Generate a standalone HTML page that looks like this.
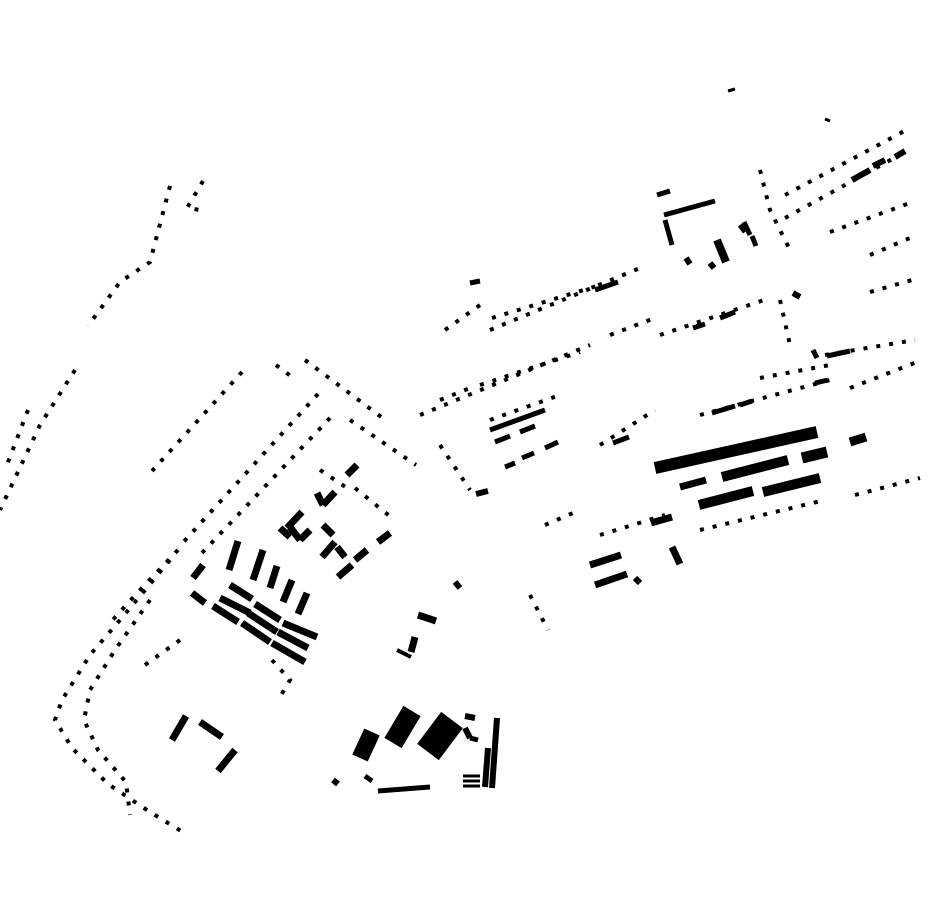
<!DOCTYPE html>
<html><head><style>body{margin:0;background:#fff}svg{display:block}</style></head><body>
<svg width="930" height="924" viewBox="0 0 930 924" xmlns="http://www.w3.org/2000/svg">
<g stroke="#000" fill="none" stroke-width="4" stroke-dasharray="4 9">
<polyline points="170,186 150,262 120,282 88,326"/>
<polyline points="203,181 187,208 200,210"/>
<polyline points="75,370 40,425 0,510"/>
<polyline points="28,410 5,470"/>
<line x1="242" y1="372" x2="152" y2="471"/>
<line x1="318" y1="394" x2="178" y2="548"/>
<line x1="330" y1="418" x2="200" y2="555"/>
<polyline points="178,550 140,590 108,625"/>
<polyline points="170,560 120,620 90,655 62,700 55,720 72,748 108,784 150,812 186,834"/>
<polyline points="150,600 115,650 90,690 84,720 98,750 126,782 130,815"/>
<polyline points="276,365 296,380"/>
<polyline points="305,360 388,422"/>
<polyline points="350,420 416,465"/>
<polyline points="355,488 392,518"/>
<polyline points="320,470 350,490"/>
<polyline points="440,445 470,490"/>
<polyline points="420,415 590,345"/>
<polyline points="440,400 470,388"/>
<polyline points="480,385 580,352"/>
<polyline points="490,330 640,268"/>
<polyline points="492,318 600,285"/>
<polyline points="610,335 655,318"/>
<polyline points="660,335 770,298"/>
<polyline points="785,195 910,128"/>
<polyline points="785,218 905,152"/>
<polyline points="830,232 910,203"/>
<polyline points="870,255 910,238"/>
<polyline points="870,292 912,280"/>
<polyline points="825,355 915,340"/>
<polyline points="850,388 917,362"/>
<polyline points="855,495 920,478"/>
<polyline points="760,378 830,365"/>
<polyline points="700,415 830,380"/>
<polyline points="600,445 655,410"/>
<polyline points="545,525 580,510"/>
<polyline points="600,535 665,515"/>
<polyline points="700,530 825,500"/>
<polyline points="760,170 770,210 790,250"/>
<polyline points="780,300 790,345"/>
<polyline points="445,330 480,305"/>
<polyline points="490,420 560,395"/>
<polyline points="530,595 548,630"/>
<polyline points="272,660 290,680 280,697"/>
<polyline points="145,665 180,640"/>
</g>
<g stroke="#000" stroke-linecap="butt">
<g stroke-width="7">
<line x1="238" y1="541" x2="229" y2="570"/><line x1="263" y1="550" x2="253" y2="580"/>
<line x1="277" y1="566" x2="270" y2="588"/><line x1="292" y1="580" x2="283" y2="602"/>
<line x1="307" y1="593" x2="298" y2="614"/>
<line x1="230" y1="585" x2="252" y2="599"/><line x1="220" y1="598" x2="250" y2="613"/>
<line x1="213" y1="606" x2="238" y2="622"/><line x1="255" y1="604" x2="280" y2="620"/>
<line x1="248" y1="613" x2="277" y2="632"/><line x1="242" y1="623" x2="270" y2="642"/>
<line x1="283" y1="623" x2="317" y2="637"/><line x1="278" y1="632" x2="308" y2="648"/>
<line x1="272" y1="643" x2="305" y2="662"/>
<line x1="203" y1="565" x2="193" y2="578"/><line x1="192" y1="593" x2="205" y2="603"/>
<line x1="302" y1="512" x2="287" y2="528"/><line x1="290" y1="527" x2="300" y2="540"/>
<line x1="300" y1="540" x2="310" y2="530"/><line x1="317" y1="493" x2="323" y2="505"/>
<line x1="323" y1="505" x2="335" y2="492"/><line x1="357" y1="465" x2="347" y2="475"/>
<line x1="323" y1="525" x2="333" y2="535"/><line x1="335" y1="542" x2="322" y2="557"/>
<line x1="337" y1="547" x2="345" y2="557"/><line x1="367" y1="550" x2="355" y2="560"/>
<line x1="352" y1="565" x2="338" y2="577"/><line x1="390" y1="533" x2="378" y2="542"/>
<line x1="280" y1="528" x2="290" y2="537"/>
<line x1="186" y1="716" x2="172" y2="740"/><line x1="200" y1="722" x2="222" y2="737"/>
<line x1="235" y1="750" x2="218" y2="771"/>
<line x1="680" y1="487" x2="706" y2="480"/><line x1="722" y1="477" x2="788" y2="460" stroke-width="10"/>
<line x1="802" y1="458" x2="827" y2="452" stroke-width="11"/><line x1="699" y1="505" x2="753" y2="491" stroke-width="10"/>
<line x1="763" y1="492" x2="820" y2="478" stroke-width="10"/><line x1="850" y1="442" x2="866" y2="437" stroke-width="9"/>
<line x1="590" y1="565" x2="621" y2="555"/><line x1="595" y1="585" x2="627" y2="574"/>
<line x1="672" y1="547" x2="680" y2="564"/><line x1="651" y1="523" x2="672" y2="517"/>
<line x1="717" y1="240" x2="726" y2="262" stroke-width="8"/>
<line x1="418" y1="615" x2="436" y2="621"/><line x1="415" y1="637" x2="411" y2="652"/>
<line x1="397" y1="650" x2="411" y2="657" stroke-width="4"/>
</g>
<line x1="655" y1="468" x2="817" y2="432" stroke-width="12"/>
<g stroke-width="5">
<line x1="664" y1="215" x2="715" y2="201"/><line x1="665" y1="220" x2="672" y2="245"/>
<line x1="490" y1="430" x2="545" y2="410"/><line x1="495" y1="442" x2="510" y2="436"/>
<line x1="520" y1="432" x2="535" y2="426"/><line x1="505" y1="467" x2="515" y2="463"/>
<line x1="522" y1="458" x2="534" y2="453"/><line x1="545" y1="448" x2="558" y2="442"/>
<line x1="613" y1="443" x2="629" y2="437"/><line x1="657" y1="195" x2="670" y2="191"/>
<line x1="693" y1="328" x2="705" y2="324"/><line x1="720" y1="318" x2="735" y2="312"/>
<line x1="712" y1="413" x2="735" y2="406"/><line x1="740" y1="405" x2="752" y2="401"/>
<line x1="815" y1="383" x2="828" y2="380"/><line x1="827" y1="356" x2="850" y2="351"/>
<line x1="813" y1="350" x2="817" y2="358"/><line x1="595" y1="290" x2="618" y2="282"/>
<line x1="378" y1="791" x2="430" y2="787"/>
<line x1="463" y1="776" x2="480" y2="776" stroke-width="3"/>
<line x1="463" y1="781" x2="480" y2="781" stroke-width="3"/>
<line x1="463" y1="786" x2="480" y2="786" stroke-width="3"/>
<line x1="744" y1="222" x2="750" y2="235"/><line x1="752" y1="236" x2="756" y2="246"/>
<line x1="740" y1="225" x2="745" y2="232"/>
</g>
<line x1="497" y1="718" x2="492" y2="788" stroke-width="6"/>
<line x1="488" y1="748" x2="485" y2="787" stroke-width="6"/>
<line x1="372" y1="732" x2="360" y2="758" stroke-width="17"/>
<line x1="412" y1="711" x2="393" y2="743" stroke-width="20"/>
<line x1="452" y1="720" x2="428" y2="752" stroke-width="27"/>
<line x1="465" y1="716" x2="475" y2="718" stroke-width="6"/>
<line x1="465" y1="728" x2="470" y2="738" stroke-width="6"/>
<line x1="470" y1="738" x2="478" y2="740" stroke-width="5"/>
<line x1="333" y1="780" x2="338" y2="784" stroke-width="6"/>
<line x1="365" y1="776" x2="372" y2="781" stroke-width="5"/>
<line x1="455" y1="582" x2="460" y2="588" stroke-width="6"/>
<line x1="476" y1="494" x2="488" y2="491" stroke-width="6"/>
<line x1="686" y1="258" x2="690" y2="264" stroke-width="6"/>
<line x1="710" y1="263" x2="714" y2="268" stroke-width="6"/>
<line x1="728" y1="91" x2="735" y2="89" stroke-width="3"/>
<line x1="825" y1="119" x2="830" y2="121" stroke-width="3"/>
<line x1="470" y1="283" x2="480" y2="281" stroke-width="5"/>
<line x1="852" y1="180" x2="870" y2="170" stroke-width="6"/>
<line x1="873" y1="166" x2="885" y2="160" stroke-width="6"/>
<line x1="895" y1="157" x2="905" y2="151" stroke-width="6"/>
<line x1="635" y1="578" x2="640" y2="583" stroke-width="6"/>
<line x1="793" y1="293" x2="800" y2="297" stroke-width="6"/>
</g>
</svg>
</body></html>
